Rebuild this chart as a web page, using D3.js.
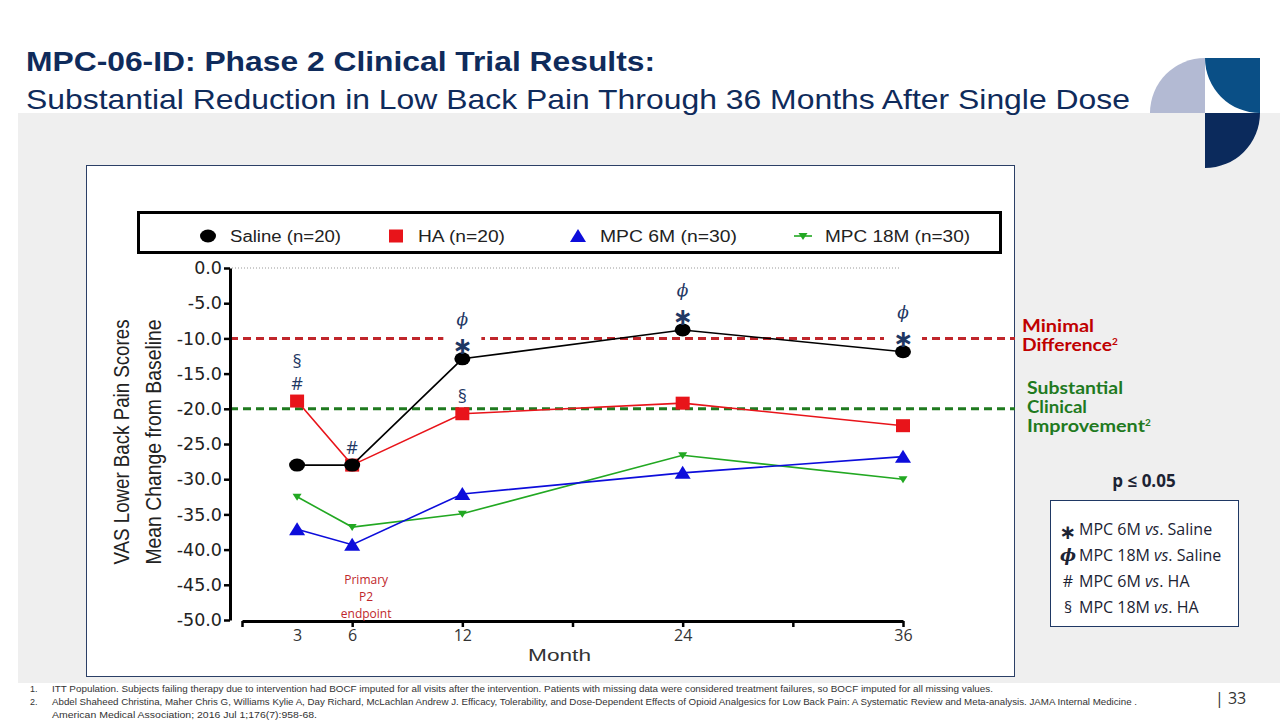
<!DOCTYPE html>
<html><head><meta charset="utf-8">
<script src="https://cdn.jsdelivr.net/npm/d3@7/dist/d3.min.js"></script>
<style>body{margin:0;background:#fff}svg{display:block}</style>
</head><body>
<svg id="c" width="1280" height="720"></svg>
<script>
const months = [3, 6, 12, 24, 36];
const saline = [-28.0, -28.0, -12.9, -8.8, -11.9];
const ha = [-18.9, -28.0, -20.7, -19.2, -22.4];
const mpc6 = [-37.1, -39.3, -32.1, -29.1, -26.8];
const mpc18 = [-32.5, -36.8, -34.9, -26.6, -30.0];
const seriesNames = ["Saline (n=20)", "HA (n=20)", "MPC 6M (n=30)", "MPC 18M (n=30)"];
const yTicks = [0, -5, -10, -15, -20, -25, -30, -35, -40, -45, -50];
const xTickMarks = [0, 6, 12, 18, 24, 30, 36];
const xTickLabels = [3, 6, 12, 24, 36];
const minimalDiff = -10;
const substantial = -20;
// significance annotations: month, anchor series, symbols bottom->top
const annots = [
  {m: 3, s: "ha", syms: ["#", "§"]},
  {m: 6, s: "saline", syms: ["#"]},
  {m: 12, s: "saline", syms: ["∗", "ϕ"]},
  {m: 12, s: "ha", syms: ["§"]},
  {m: 24, s: "saline", syms: ["∗", "ϕ"]},
  {m: 36, s: "saline", syms: ["∗", "ϕ"]}
];
const keyItems = [["∗", "MPC 6M ", "vs", ". Saline"], ["ϕ", "MPC 18M ", "vs", ". Saline"], ["#", "MPC 6M ", "vs", ". HA"], ["§", "MPC 18M ", "vs", ". HA"]];
const footnotes = [
  ["1.", "ITT Population.  Subjects failing therapy due to intervention had BOCF imputed for all visits after the intervention.  Patients with missing data were considered treatment failures, so BOCF imputed for all missing values."],
  ["2.", "Abdel Shaheed Christina, Maher Chris G, Williams Kylie A, Day Richard, McLachlan Andrew J. Efficacy, Tolerability, and Dose-Dependent Effects of Opioid Analgesics for Low Back Pain: A Systematic Review and Meta-analysis. JAMA Internal Medicine ."],
  ["", "American Medical Association; 2016 Jul 1;176(7):958-68."]
];

const svg = d3.select("#c");
const navy = "#0f2b5b";

// background panel
svg.append("rect").attr("x", 18).attr("y", 113).attr("width", 1262).attr("height", 570).attr("fill", "#efefef");

// logo
const lg = svg.append("g");
const arc = d3.arc();
lg.append("path").attr("transform", "translate(1205,113)")
  .attr("d", arc({innerRadius: 0, outerRadius: 55, startAngle: -Math.PI / 2, endAngle: 0})).attr("fill", "#b3bad3");
lg.append("path").attr("transform", "translate(1260,58)")
  .attr("d", arc({innerRadius: 0, outerRadius: 55, startAngle: Math.PI, endAngle: 3 * Math.PI / 2})).attr("fill", "#0a4f86");
lg.append("path").attr("transform", "translate(1205,113)")
  .attr("d", arc({innerRadius: 0, outerRadius: 55, startAngle: Math.PI / 2, endAngle: Math.PI})).attr("fill", "#0b2a5c");

// titles
svg.append("text").attr("x", 26).attr("y", 71).attr("font-family", "Liberation Sans, Arial, sans-serif")
  .attr("font-size", 28).attr("font-weight", "bold").attr("fill", navy)
  .attr("textLength", 629).attr("lengthAdjust", "spacingAndGlyphs").text("MPC-06-ID: Phase 2 Clinical Trial Results:");
svg.append("text").attr("x", 26).attr("y", 109).attr("font-family", "Liberation Sans, Arial, sans-serif")
  .attr("font-size", 28).attr("fill", navy)
  .attr("textLength", 1104).attr("lengthAdjust", "spacingAndGlyphs").text("Substantial Reduction in Low Back Pain Through 36 Months After Single Dose");

// chart panel
svg.append("rect").attr("x", 86.5).attr("y", 165.5).attr("width", 928).attr("height", 511).attr("fill", "#fff")
  .attr("stroke", "#2b3f66").attr("stroke-width", 1);

const x = d3.scaleLinear().domain([0, 36]).range([242, 903]);
const y = d3.scaleLinear().domain([0, -50]).range([268, 620]);

// legend box
svg.append("rect").attr("x", 138.5).attr("y", 212.5).attr("width", 862).attr("height", 40).attr("fill", "#fff")
  .attr("stroke", "#000").attr("stroke-width", 3);

// zero dotted line
svg.append("line").attr("x1", 232).attr("x2", 900).attr("y1", y(0)).attr("y2", y(0))
  .attr("stroke", "#999").attr("stroke-width", 1).attr("stroke-dasharray", "1,2");

// reference dashed lines
svg.append("line").attr("x1", 230).attr("x2", 1015).attr("y1", y(minimalDiff)).attr("y2", y(minimalDiff))
  .attr("stroke", "#c0262b").attr("stroke-width", 3).attr("stroke-dasharray", "8,5");
svg.append("line").attr("x1", 230).attr("x2", 1015).attr("y1", y(substantial)).attr("y2", y(substantial))
  .attr("stroke", "#1f7a1f").attr("stroke-width", 3).attr("stroke-dasharray", "8,5");

// y axis
const yAxis = d3.axisLeft(y).tickValues(yTicks).tickFormat(d => d3.format(".1f")(d).replace("−", "-")).tickSize(6).tickSizeOuter(0);
const yg = svg.append("g").attr("transform", "translate(230,0)").call(yAxis);
yg.select(".domain").attr("stroke", "#000").attr("stroke-width", 3);
yg.selectAll(".tick line").attr("stroke", "#000").attr("stroke-width", 2.5);
yg.selectAll(".tick text").attr("font-family", "DejaVu Sans, Verdana, sans-serif").attr("font-size", 17.5)
  .attr("fill", "#222").attr("x", -8);

// x axis
const xAxisTicks = d3.axisBottom(x).tickValues(xTickMarks).tickFormat("").tickSize(6).tickSizeOuter(0);
const xg = svg.append("g").attr("transform", "translate(0,621)").call(xAxisTicks);
xg.select(".domain").attr("stroke", "#000").attr("stroke-width", 3);
xg.selectAll(".tick line").attr("stroke", "#000").attr("stroke-width", 2.5);
const xAxisLabels = d3.axisBottom(x).tickValues(xTickLabels).tickSize(0);
const xl = svg.append("g").attr("transform", "translate(0,621)").call(xAxisLabels);
xl.select(".domain").remove();
xl.selectAll(".tick text").attr("font-family", "Open Sans, sans-serif").attr("font-size", 16).attr("fill", "#333").attr("dy", "1.05em");

svg.append("text").attr("x", 528).attr("y", 661).attr("font-family", "Liberation Sans, Arial, sans-serif")
  .attr("font-size", 17).attr("fill", "#333").attr("textLength", 63).attr("lengthAdjust", "spacingAndGlyphs").text("Month");

// y title
const ytA = {fam: "Liberation Sans, Arial, sans-serif", size: 22};
[["VAS Lower Back Pain Scores", 129], ["Mean Change from Baseline", 161]].forEach(([t, yy]) => {
  svg.append("text").attr("transform", "translate(0,442) rotate(-90)").attr("text-anchor", "middle")
    .attr("x", 0).attr("y", yy).attr("font-family", ytA.fam).attr("font-size", ytA.size).attr("fill", "#222")
    .attr("textLength", 245).attr("lengthAdjust", "spacingAndGlyphs").text(t);
});

// series
const series = [
  {key: "saline", vals: saline, color: "#000", shape: "circle"},
  {key: "ha", vals: ha, color: "#e8141a", shape: "square"},
  {key: "mpc6", vals: mpc6, color: "#0d0ddb", shape: "tri"},
  {key: "mpc18", vals: mpc18, color: "#22a822", shape: "dtri"}
];
const line = d3.line().x(d => x(d[0])).y(d => y(d[1]));
function marker(g, shape, color) {
  if (shape === "circle") g.append("ellipse").attr("rx", 8).attr("ry", 6.5).attr("fill", color);
  else if (shape === "square") g.append("rect").attr("x", -7).attr("y", -6.5).attr("width", 14).attr("height", 13).attr("fill", color);
  else if (shape === "tri") g.append("path").attr("d", "M0,-7L8,6L-8,6Z").attr("fill", color);
  else g.append("path").attr("d", "M-4.5,-3L4.5,-3L0,4Z").attr("fill", color);
}
[series[3], series[2], series[1], series[0]].forEach(s => {
  const pts = months.map((m, i) => [m, s.vals[i]]);
  svg.append("path").attr("d", line(pts)).attr("fill", "none").attr("stroke", s.color).attr("stroke-width", 1.6);
  pts.forEach(p => {
    const g = svg.append("g").attr("transform", `translate(${x(p[0])},${y(p[1])})`);
    marker(g, s.shape, s.color);
  });
});

// legend
const legX = [208, 396, 578, 803];
const legW = [111, 87, 137, 145];
seriesNames.forEach((n, i) => {
  const s = series[i];
  const g = svg.append("g").attr("transform", `translate(${legX[i]},236)`);
  if (s.shape === "dtri") {
    g.append("line").attr("x1", -9).attr("x2", 9).attr("stroke", s.color).attr("stroke-width", 1.6);
  }
  marker(g, s.shape, s.color);
  svg.append("text").attr("x", legX[i] + 22).attr("y", 242).attr("font-family", "Liberation Sans, Arial, sans-serif")
    .attr("font-size", 16).attr("fill", "#222").attr("textLength", legW[i]).attr("lengthAdjust", "spacingAndGlyphs").text(n);
});

// annotations
const lookup = {saline, ha};
annots.forEach(a => {
  const idx = months.indexOf(a.m);
  const base = y(lookup[a.s][idx]);
  const cx = x(a.m);
  a.syms.forEach((sym, k) => {
    const cy = base - 18 - k * 22;
    if (sym === "∗") {
      svg.append("rect").attr("x", cx - 19).attr("y", cy - 12).attr("width", 38).attr("height", 22).attr("fill", "#fff");
    }
    const t = svg.append("text").attr("x", cx).attr("y", cy).attr("text-anchor", "middle").attr("dominant-baseline", "central")
      .attr("fill", "#1f3864");
    if (sym === "∗") t.attr("font-family", "DejaVu Sans, sans-serif").attr("font-weight", "bold").attr("font-size", 24).attr("dy", 5).text(sym);
    else if (sym === "ϕ") t.attr("font-family", "DejaVu Serif, serif").attr("font-style", "italic").attr("font-size", 17).text(sym);
    else t.attr("font-family", "Open Sans, sans-serif").attr("font-size", 18).text(sym);
  });
});

// primary endpoint label
const pe = svg.append("text").attr("text-anchor", "middle").attr("font-family", "Open Sans, sans-serif")
  .attr("font-size", 12).attr("fill", "#c0262b");
["Primary", "P2", "endpoint"].forEach((t, i) => pe.append("tspan").attr("x", x(6) + 14).attr("y", 584 + i * 17).text(t));

// right labels
function boldLabel(xx, yy, txt, w, color, sup) {
  const t = svg.append("text").attr("x", xx).attr("y", yy).attr("font-family", "Lato, sans-serif").attr("font-weight", "bold")
    .attr("font-size", 16.5).attr("fill", color);
  t.append("tspan").text(txt).attr("textLength", w).attr("lengthAdjust", "spacingAndGlyphs");
  if (sup) t.append("tspan").attr("font-size", 10).attr("dy", -6).text("2");
}
boldLabel(1022, 332, "Minimal", 72, "#c00000", false);
boldLabel(1022, 351, "Difference", 90, "#c00000", true);
boldLabel(1027, 394, "Substantial", 96, "#1f7a1f", false);
boldLabel(1027, 413, "Clinical", 60, "#1f7a1f", false);
boldLabel(1027, 432, "Improvement", 118, "#1f7a1f", true);

// p key
svg.append("text").attr("x", 1144).attr("y", 487).attr("text-anchor", "middle").attr("font-family", "Open Sans, sans-serif")
  .attr("font-weight", "bold").attr("font-size", 17).attr("fill", "#1c2333").text("p ≤ 0.05");
svg.append("rect").attr("x", 1050.5).attr("y", 500.5).attr("width", 188).attr("height", 126).attr("fill", "#fff")
  .attr("stroke", "#1f3864").attr("stroke-width", 1);
keyItems.forEach((it, i) => {
  const yy = 535 + i * 26;
  const sx = 1068;
  const s = svg.append("text").attr("x", sx).attr("y", yy).attr("text-anchor", "middle").attr("fill", "#1c2333");
  if (it[0] === "∗") s.attr("font-family", "DejaVu Sans, sans-serif").attr("font-weight", "bold").attr("font-size", 20).attr("y", yy + 4).text("∗");
  else if (it[0] === "ϕ") s.attr("font-family", "DejaVu Serif, serif").attr("font-style", "italic").attr("font-weight", "bold").attr("font-size", 17).text("ϕ");
  else s.attr("font-family", "Open Sans, sans-serif").attr("font-size", 16).text(it[0]);
  const t = svg.append("text").attr("x", 1079).attr("y", yy).attr("font-family", "Open Sans, sans-serif")
    .attr("font-size", 16).attr("fill", "#1c2333");
  t.append("tspan").text(it[1]);
  t.append("tspan").attr("font-style", "italic").text(it[2]);
  t.append("tspan").text(it[3]);
});

// footnotes
footnotes.forEach((f, i) => {
  const yy = 692 + i * 13;
  if (f[0]) svg.append("text").attr("x", 30).attr("y", yy).attr("font-family", "Liberation Sans Narrow, sans-serif")
    .attr("font-size", 9).attr("fill", "#333").text(f[0]);
  const t = svg.append("text").attr("x", 52).attr("y", yy).attr("font-family", "Liberation Sans Narrow, sans-serif")
    .attr("font-size", 9).attr("fill", "#333").text(f[1]);
  const target = i === 0 ? 941 : (i === 1 ? 1085 : 265);
  t.attr("textLength", target).attr("lengthAdjust", "spacingAndGlyphs");
});
svg.append("text").attr("x", 1215).attr("y", 704).attr("font-family", "Open Sans, sans-serif").attr("font-size", 16)
  .attr("fill", "#333").text("| 33");
</script>
</body></html>
